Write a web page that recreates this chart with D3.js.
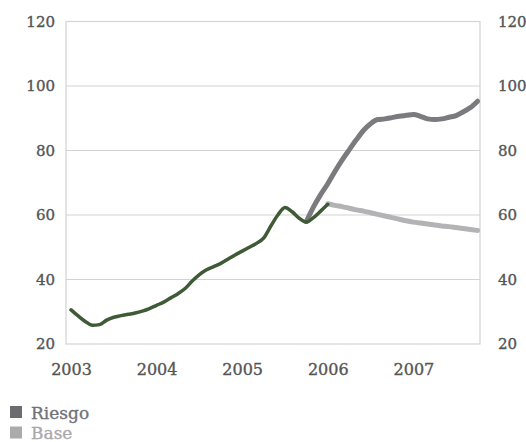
<!DOCTYPE html>
<html>
<head>
<meta charset="utf-8">
<script src="https://cdn.jsdelivr.net/npm/d3@7"></script>
<style>
  html, body { margin: 0; padding: 0; background: #fff; }
  svg { display: block; }
</style>
</head>
<body>
<svg id="chart" width="526" height="442"></svg>
<script>
// Monthly series, month 0 = January 2003
const yearLabels = ["2003", "2004", "2005", "2006", "2007"];
const yTicks = [20, 40, 60, 80, 100, 120];

// Historical series (months 0..36)
const histStart = 0;
const histValues = [
  30.6, 28.7, 27.0, 25.8, 26.0, 27.4, 28.3, 28.8, 29.2, 29.6, 30.2, 31.0,
  32.0, 33.0, 34.3, 35.6, 37.2, 39.5, 41.5, 43.0, 44.0, 45.0, 46.3, 47.6,
  48.8, 50.0, 51.2, 52.8, 56.5, 60.0, 62.3, 61.0, 59.0, 57.8, 59.2, 61.2,
  63.3
];

// "Riesgo" scenario (months 33..57)
const riesgoStart = 33;
const riesgoValues = [
  58.0, 62.5, 66.3, 69.7, 73.5, 77.0, 80.2, 83.3, 86.2, 88.3, 89.6, 89.8,
  90.2, 90.6, 90.9, 91.2, 90.6, 89.8, 89.6, 89.8, 90.3, 90.8, 92.0, 93.3,
  95.3
];

// "Base" scenario (months 36..57)
const baseStart = 36;
const baseValues = [
  63.5, 63.0, 62.6, 62.1, 61.6, 61.2, 60.7, 60.2, 59.7, 59.2, 58.7, 58.2,
  57.8, 57.5, 57.2, 56.9, 56.6, 56.4, 56.1, 55.8, 55.5, 55.2
];

const legendNames = ["Riesgo", "Base"];

const colors = {
  hist: "#3f5a36",
  riesgo: "#7b7b7f",
  base: "#b3b3b6",
  grid: "#d3d3d3",
  text: "#555555"
};

const svg = d3.select("#chart");
const plot = { left: 66, right: 480, top: 21.5, bottom: 344 };

const x = d3.scaleLinear().domain([-0.7, 57.34]).range([plot.left, plot.right]);
const y = d3.scaleLinear().domain([20, 120]).range([plot.bottom, plot.top]);

const serif = "'DejaVu Serif', 'Liberation Serif', serif";

// Slightly heavier serif text
function styleText(sel, size, color) {
  sel.attr("fill", color)
    .attr("stroke", color).attr("stroke-width", 0.35)
    .style("font-family", serif).style("font-size", size + "px");
}

// Grid lines and frame
svg.append("g")
  .selectAll("line")
  .data(yTicks.filter(d => d > 20 && d < 120))
  .join("line")
  .attr("x1", plot.left).attr("x2", plot.right)
  .attr("y1", d => y(d)).attr("y2", d => y(d))
  .attr("stroke", colors.grid).attr("stroke-width", 1.2);

svg.append("rect")
  .attr("x", plot.left).attr("y", plot.top)
  .attr("width", plot.right - plot.left).attr("height", plot.bottom - plot.top)
  .attr("fill", "none").attr("stroke", colors.grid).attr("stroke-width", 1.2);

// Left axis labels
const leftAxis = d3.axisLeft(y).tickValues(yTicks).tickSize(0).tickPadding(11);
svg.append("g")
  .attr("transform", `translate(${plot.left},0)`)
  .call(leftAxis)
  .call(g => g.select(".domain").remove())
  .call(g => styleText(g.selectAll("text"), 15, colors.text));

// Right axis labels
const rightAxis = d3.axisRight(y).tickValues(yTicks).tickSize(0).tickPadding(18);
svg.append("g")
  .attr("transform", `translate(${plot.right},0)`)
  .call(rightAxis)
  .call(g => g.select(".domain").remove())
  .call(g => styleText(g.selectAll("text"), 15, colors.text));

// Year labels on the bottom axis
const bottomAxis = d3.axisBottom(x)
  .tickValues(yearLabels.map((_, i) => i * 12))
  .tickFormat((d, i) => yearLabels[i])
  .tickSize(0).tickPadding(20);
svg.append("g")
  .attr("transform", `translate(0,${plot.bottom})`)
  .call(bottomAxis)
  .call(g => g.select(".domain").remove())
  .call(g => styleText(g.selectAll("text"), 16, colors.text));

// Lines
const toPoints = (start, vals) => vals.map((v, i) => ({ m: start + i, v }));
const line = d3.line().x(d => x(d.m)).y(d => y(d.v)).curve(d3.curveMonotoneX);

svg.append("path")
  .datum(toPoints(riesgoStart, riesgoValues))
  .attr("d", line)
  .attr("fill", "none").attr("stroke", colors.riesgo)
  .attr("stroke-width", 5).attr("stroke-linecap", "round").attr("stroke-linejoin", "round");

svg.append("path")
  .datum(toPoints(baseStart, baseValues))
  .attr("d", line)
  .attr("fill", "none").attr("stroke", colors.base)
  .attr("stroke-width", 5).attr("stroke-linecap", "round").attr("stroke-linejoin", "round");

svg.append("path")
  .datum(toPoints(histStart, histValues))
  .attr("d", line)
  .attr("fill", "none").attr("stroke", colors.hist)
  .attr("stroke-width", 3.5).attr("stroke-linecap", "round").attr("stroke-linejoin", "round");

// Legend
const legendColors = [
  { box: "#6c6c70", text: "#727275" },
  { box: "#ababae", text: "#a9a9ac" }
];
const legend = svg.append("g").attr("transform", "translate(10,406)");
legendNames.forEach((name, i) => {
  const g = legend.append("g").attr("transform", `translate(0,${i * 20.5})`);
  g.append("rect").attr("x", 0).attr("y", 0).attr("width", 12).attr("height", 12)
    .attr("fill", legendColors[i].box);
  g.append("text").attr("x", 21).attr("y", 12.5)
    .call(s => styleText(s, 17, legendColors[i].text))
    .text(name);
});
</script>
</body>
</html>
